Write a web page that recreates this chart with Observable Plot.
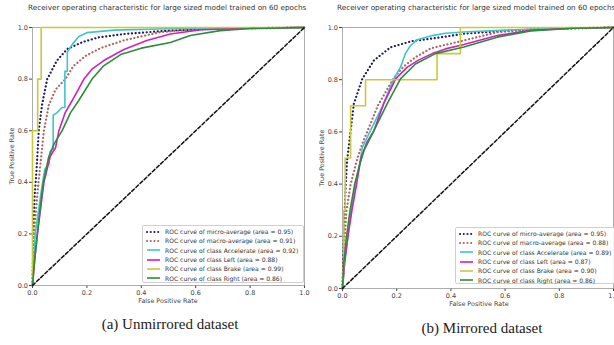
<!DOCTYPE html>
<html>
<head>
<meta charset="utf-8">
<script src="https://cdn.jsdelivr.net/npm/d3@7"></script>
<script src="https://cdn.jsdelivr.net/npm/@observablehq/plot@0.6"></script>
<style>
  html, body { margin: 0; padding: 0; background: #fff; }
  body { width: 614px; height: 345px; position: relative; overflow: hidden; font-family: "DejaVu Sans", sans-serif; }
  .panel { position: absolute; top: 0; }
  .title { position: absolute; top: 3px; font-size: 7.25px; color: #333; white-space: nowrap; }
  .caption { position: absolute; font-family: "Liberation Serif", "DejaVu Serif", serif; font-size: 15px; color: #222; white-space: nowrap; transform: translateX(-50%); }
  .axlabel { position: absolute; font-size: 6.4px; color: #444; white-space: nowrap; transform: translate(-50%, -50%); }
  .axlabel.rot { transform: translate(-50%, -50%) rotate(-90deg); }
  .legend { position: absolute; border: 1px solid #d0d0d0; border-radius: 2px; background: rgba(255,255,255,0.85); box-sizing: border-box; padding: 1px 3px; }
  .legend .row { display: flex; align-items: center; height: 9.3px; font-size: 6.05px; color: #333; white-space: nowrap; }
  .legend svg { margin-right: 4px; flex: none; }
</style>
</head>
<body>
<div id="root"></div>
<script>
// ---------- data ----------
const tickValues = [0, 0.2, 0.4, 0.6, 0.8, 1.0];
const seriesNames = ["micro-average", "macro-average", "class Accelerate", "class Left", "class Brake", "class Right"];
const seriesColors = ["#1b1b66", "#b0645a", "#3fc4cc", "#d020c0", "#c9c93a", "#2e8b3a"];
const areasUnmirrored = ["0.95", "0.91", "0.92", "0.88", "0.99", "0.86"];
const areasMirrored = ["0.95", "0.88", "0.89", "0.87", "0.90", "0.86"];
const chartTitle = "Receiver operating characteristic for large sized model trained on 60 epochs";
const xLabel = "False Positive Rate";
const yLabel = "True Positive Rate";
const captions = ["(a) Unmirrored dataset", "(b) Mirrored dataset"];

// Unmirrored dataset: [fpr, tpr]
const unMicro = [[0,0],[0.003,0.2],[0.008,0.35],[0.015,0.45],[0.023,0.6],[0.035,0.7],[0.054,0.8],[0.09,0.872],[0.128,0.917],[0.183,0.943],[0.243,0.962],[0.34,0.975],[0.5,0.988],[0.7,0.996],[1,1]];
const unMacro = [[0,0],[0.005,0.2],[0.022,0.4],[0.032,0.5],[0.042,0.6],[0.06,0.7],[0.085,0.76],[0.121,0.8],[0.15,0.85],[0.195,0.89],[0.25,0.92],[0.335,0.95],[0.47,0.982],[0.6,0.993],[1,1]];
const unAccel = [[0,0],[0.01,0.2],[0.03,0.35],[0.045,0.45],[0.06,0.47],[0.065,0.52],[0.076,0.53],[0.076,0.66],[0.09,0.67],[0.109,0.69],[0.119,0.69],[0.119,0.83],[0.128,0.83],[0.128,0.905],[0.15,0.94],[0.17,0.965],[0.2,0.98],[0.3,0.99],[0.5,0.995],[1,1]];
const unLeft = [[0,0],[0.008,0.1],[0.018,0.2],[0.03,0.3],[0.042,0.4],[0.065,0.5],[0.085,0.535],[0.097,0.6],[0.12,0.67],[0.146,0.717],[0.189,0.8],[0.22,0.84],[0.262,0.872],[0.336,0.915],[0.42,0.95],[0.507,0.975],[0.62,0.991],[0.8,0.998],[1,1]];
const unBrake = [[0,0],[0,0.6],[0.019,0.6],[0.019,0.8],[0.032,0.8],[0.032,1],[1,1]];
const unRight = [[0,0],[0.008,0.1],[0.018,0.2],[0.028,0.3],[0.04,0.4],[0.06,0.5],[0.08,0.55],[0.109,0.6],[0.14,0.67],[0.17,0.717],[0.219,0.8],[0.26,0.85],[0.324,0.895],[0.4,0.92],[0.507,0.942],[0.58,0.969],[0.69,0.988],[0.8,0.996],[1,1]];

// Mirrored dataset: [fpr, tpr]
const miMicro = [[0,0],[0.004,0.15],[0.008,0.3],[0.013,0.42],[0.017,0.49],[0.03,0.605],[0.042,0.708],[0.073,0.803],[0.116,0.874],[0.177,0.924],[0.257,0.948],[0.368,0.963],[0.447,0.976],[0.63,0.989],[0.8,0.996],[1,1]];
const miMacro = [[0,0],[0.005,0.15],[0.015,0.3],[0.03,0.4],[0.055,0.5],[0.075,0.56],[0.095,0.61],[0.13,0.7],[0.187,0.803],[0.225,0.85],[0.269,0.886],[0.325,0.92],[0.447,0.95],[0.571,0.982],[0.7,0.993],[1,1]];
const miAccel = [[0,0],[0.008,0.1],[0.02,0.2],[0.032,0.3],[0.048,0.4],[0.062,0.47],[0.073,0.54],[0.103,0.605],[0.146,0.695],[0.189,0.803],[0.214,0.848],[0.232,0.9],[0.251,0.931],[0.276,0.953],[0.331,0.969],[0.38,0.978],[0.447,0.983],[0.6,0.99],[0.8,0.997],[1,1]];
const miLeft = [[0,0],[0.008,0.1],[0.02,0.2],[0.035,0.3],[0.052,0.4],[0.068,0.5],[0.09,0.56],[0.116,0.605],[0.152,0.708],[0.196,0.803],[0.239,0.848],[0.28,0.875],[0.331,0.9],[0.38,0.918],[0.448,0.935],[0.571,0.969],[0.694,0.989],[0.85,0.997],[1,1]];
const miBrake = [[0,0],[0.005,0.1],[0.005,0.3],[0.01,0.3],[0.01,0.5],[0.03,0.5],[0.03,0.7],[0.085,0.7],[0.085,0.8],[0.349,0.8],[0.349,0.9],[0.435,0.9],[0.435,1],[1,1]];
const miRight = [[0,0],[0.005,0.1],[0.015,0.2],[0.028,0.3],[0.045,0.4],[0.062,0.47],[0.08,0.53],[0.116,0.605],[0.165,0.708],[0.214,0.803],[0.269,0.86],[0.343,0.9],[0.448,0.925],[0.571,0.963],[0.694,0.987],[0.85,0.997],[1,1]];

const chanceLine = [[0,0],[1,1]];

// ---------- drawing ----------
const root = document.getElementById("root");

function makePanel(curves, opts) {
  const [micro, macro, accel, left, brake, right] = curves;
  const solid = (d, c) => Plot.line(d, {x: d => d[0], y: d => d[1], stroke: c, strokeWidth: 1.6});
  const dotted = (d, c) => Plot.line(d, {x: d => d[0], y: d => d[1], stroke: c, strokeWidth: 2.2, strokeDasharray: "0.1 3.6", strokeLinecap: "round"});
  return Plot.plot({
    width: opts.width,
    height: opts.height,
    marginLeft: opts.ml,
    marginRight: opts.mr,
    marginTop: opts.mt,
    marginBottom: opts.mb,
    style: {fontSize: "6.5px", fontFamily: "DejaVu Sans, sans-serif", color: "#444", background: "transparent", overflow: "visible"},
    x: {domain: [0, 1], ticks: tickValues, tickFormat: ".1f", tickSize: 3, tickPadding: 1.5, label: null},
    y: {domain: [0, 1], ticks: tickValues, tickFormat: ".1f", tickSize: 3, tickPadding: 1.5, label: null},
    marks: [
      Plot.frame({stroke: "#999", strokeWidth: 0.8}),
      dotted(micro, seriesColors[0]),
      dotted(macro, seriesColors[1]),
      solid(accel, seriesColors[2]),
      solid(left, seriesColors[3]),
      solid(brake, seriesColors[4]),
      solid(right, seriesColors[5]),
      Plot.line(chanceLine, {x: d => d[0], y: d => d[1], stroke: "#111", strokeWidth: 1.5, strokeDasharray: "3.5 2.2"})
    ]
  });
}

function addText(cls, text, x, y) {
  const el = document.createElement("div");
  el.className = cls;
  el.style.left = x + "px";
  el.style.top = y + "px";
  el.textContent = text;
  root.appendChild(el);
}

function addPanel(curves, areas, pos) {
  const wrap = document.createElement("div");
  wrap.className = "panel";
  wrap.style.left = pos.left + "px";
  wrap.appendChild(makePanel(curves, pos));
  root.appendChild(wrap);

  addText("title", chartTitle, pos.titleX, 3);
  addText("axlabel", xLabel, pos.xlX, pos.xlY);
  addText("axlabel rot", yLabel, pos.ylX, pos.ylY);

  const lg = document.createElement("div");
  lg.className = "legend";
  Object.assign(lg.style, {left: pos.lgX + "px", top: pos.lgY + "px", width: pos.lgW + "px", height: pos.lgH + "px"});
  seriesNames.forEach((name, i) => {
    const row = document.createElement("div");
    row.className = "row";
    const dots = i < 2;
    row.innerHTML = `<svg width="15" height="4"><line x1="1" y1="2" x2="14" y2="2" stroke="${seriesColors[i]}" stroke-width="${dots ? 2 : 1.6}" ${dots ? 'stroke-dasharray="0.1 3.6" stroke-linecap="round"' : ''}/></svg><span>ROC curve of ${name} (area = ${areas[i]})</span>`;
    lg.appendChild(row);
  });
  root.appendChild(lg);

  const c = document.createElement("div");
  c.className = "caption";
  c.style.left = pos.capX + "px";
  c.style.top = pos.capY + "px";
  c.textContent = pos.caption;
  root.appendChild(c);
}

addPanel([unMicro, unMacro, unAccel, unLeft, unBrake, unRight], areasUnmirrored,
  {left: 0, width: 310, height: 310, ml: 32, mr: 6, mt: 27, mb: 25,
   titleX: 28, xlX: 168, xlY: 301, ylX: 12, ylY: 156,
   lgX: 142, lgY: 225, lgW: 162, lgH: 58, capX: 170, capY: 316, caption: captions[0]});
addPanel([miMicro, miMacro, miAccel, miLeft, miBrake, miRight], areasMirrored,
  {left: 305, width: 309, height: 310, ml: 37, mr: 1, mt: 27, mb: 22,
   titleX: 337, xlX: 479, xlY: 304, ylX: 322, ylY: 158,
   lgX: 455, lgY: 227, lgW: 160, lgH: 57, capX: 482, capY: 320, caption: captions[1]});
</script>
</body>
</html>
